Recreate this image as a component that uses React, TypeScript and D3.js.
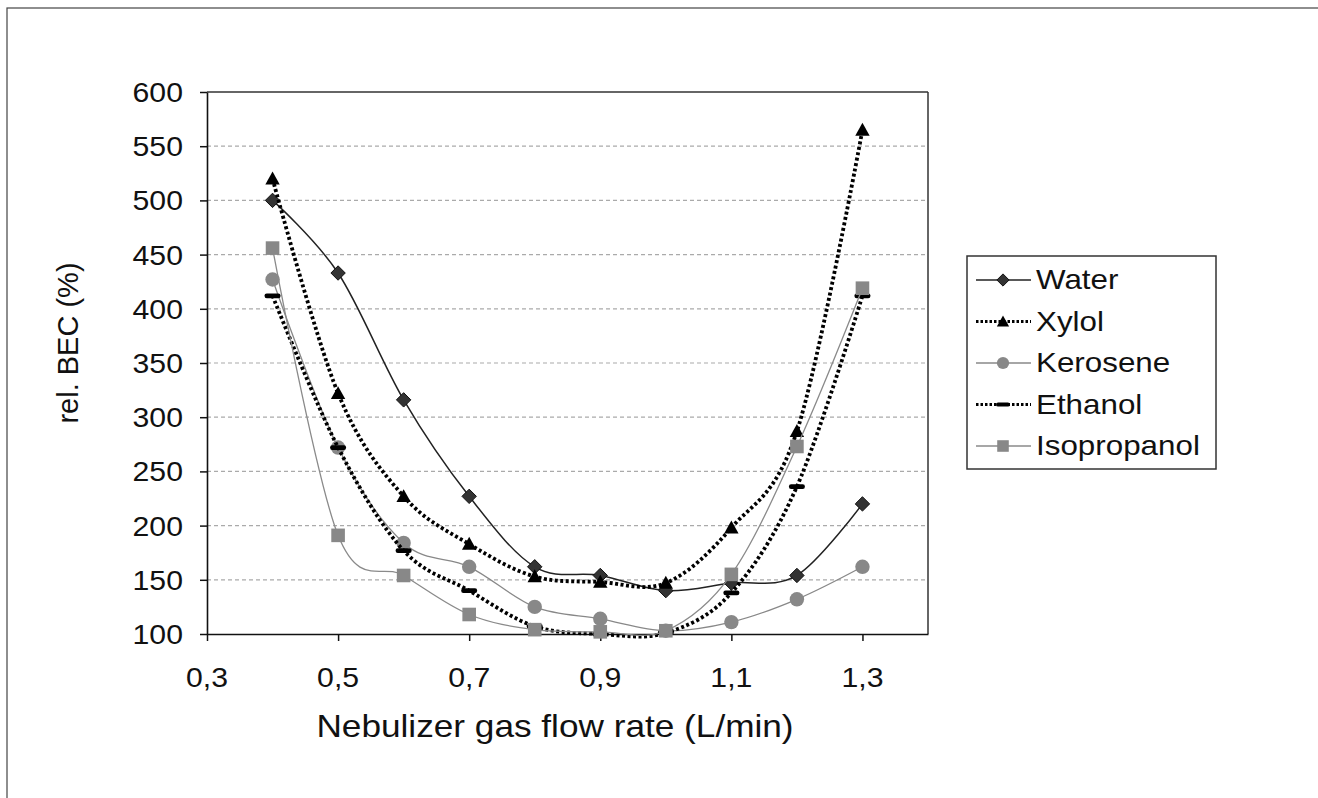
import React, { useEffect, useRef } from 'react';
import * as d3 from 'd3';

// values
const flowRates = [0.4, 0.5, 0.6, 0.7, 0.8, 0.9, 1.0, 1.1, 1.2, 1.3];
const water = [500, 433, 316, 227, 162, 154, 140, 147, 154, 220];
const xylol = [520, 322, 227, 183, 153, 148, 147, 198, 287, 565];
const kerosene = [427, 272, 184, 162, 125, 114, 103, 111, 132, 162];
const ethanol = [412, 272, 177, 140, 107, 100, 101, 138, 236, 412];
const isopropanol = [456, 191, 154, 118, 104, 102, 103, 155, 273, 419];

const xTicks = [0.3, 0.5, 0.7, 0.9, 1.1, 1.3];
const yTicks = [100, 150, 200, 250, 300, 350, 400, 450, 500, 550, 600];
const seriesNames = ['Water', 'Xylol', 'Kerosene', 'Ethanol', 'Isopropanol'];

const FONT = 'Liberation Sans, Arial, sans-serif';

const drawChart = (svgEl: SVGSVGElement) => {
  const svg = d3.select(svgEl);
  svg.selectAll('*').remove();

  const x = d3.scaleLinear().domain([0.3, 1.4]).range([207, 928]);
  const y = d3.scaleLinear().domain([100, 600]).range([634, 92]);

  // outer frame (only top/left visible)
  svg.append('rect').attr('x', 7).attr('y', 8).attr('width', 1330).attr('height', 820)
    .attr('fill', 'white').attr('stroke', '#444').attr('stroke-width', 1.2);

  // grid
  svg.append('g').selectAll('line').data(yTicks.filter(d => d > 100 && d < 600)).enter()
    .append('line')
    .attr('x1', x(0.3)).attr('x2', x(1.4))
    .attr('y1', d => y(d)).attr('y2', d => y(d))
    .attr('stroke', '#aaa').attr('stroke-width', 1.2).attr('stroke-dasharray', '4,3');

  // plot border
  svg.append('line').attr('x1', x(0.3)).attr('x2', x(1.4)).attr('y1', y(600)).attr('y2', y(600))
    .attr('stroke', '#666').attr('stroke-width', 2);
  svg.append('line').attr('x1', x(1.4)).attr('x2', x(1.4)).attr('y1', y(600)).attr('y2', y(100))
    .attr('stroke', '#333').attr('stroke-width', 1.5);

  // axes
  const yAxis = d3.axisLeft(y).tickValues(yTicks).tickSize(7).tickSizeOuter(0).tickFormat(() => '');
  const gy = svg.append('g').attr('transform', `translate(${x(0.3)},0)`).call(yAxis);
  gy.select('.domain').attr('stroke', '#111').attr('stroke-width', 1.6);
  gy.selectAll('.tick line').attr('stroke', '#111').attr('stroke-width', 1.5);

  const xAxis = d3.axisBottom(x).tickValues(xTicks).tickSize(7).tickSizeOuter(0).tickFormat(() => '');
  const gx = svg.append('g').attr('transform', `translate(0,${y(100)})`).call(xAxis);
  gx.select('.domain').attr('stroke', '#111').attr('stroke-width', 1.6);
  gx.selectAll('.tick line').attr('stroke', '#111').attr('stroke-width', 1.5);

  const label = (txt: string, tx: number, ty: number, size: number, anchor: string, sx = 1.12) => {
    svg.append('text').text(txt)
      .attr('transform', `translate(${tx},${ty}) scale(${sx},1)`)
      .attr('text-anchor', anchor)
      .style('font-family', FONT).style('font-size', size + 'px').attr('fill', '#111');
  };

  yTicks.forEach(t => label(String(t), 183, y(t) + 10, 27, 'end'));
  xTicks.forEach(t => label(t.toFixed(1).replace('.', ','), x(t), 687, 27, 'middle'));
  label('Nebulizer gas flow rate (L/min)', 555, 737, 32, 'middle', 1.1);

  svg.append('text').text('rel. BEC (%)')
    .attr('transform', `translate(78,343) rotate(-90)`)
    .attr('text-anchor', 'middle')
    .style('font-family', FONT).style('font-size', '29px').attr('fill', '#111');

  // series
  const curve = d3.curveCardinal.tension(0);
  const line = d3.line<number>().x((d, i) => x(flowRates[i])).y(d => y(d)).curve(curve);

  const styles = [
    { data: water, stroke: '#222', width: 1.5, dash: null, marker: 'diamond', fill: '#333' },
    { data: xylol, stroke: '#000', width: 3.8, dash: '3,2.5', marker: 'triangle', fill: '#000' },
    { data: kerosene, stroke: '#888', width: 1.3, dash: null, marker: 'circle', fill: '#888' },
    { data: ethanol, stroke: '#000', width: 3.8, dash: '3,2.5', marker: 'bar', fill: '#000' },
    { data: isopropanol, stroke: '#8a8a8a', width: 1.3, dash: null, marker: 'square', fill: '#888' },
  ];

  const drawMarker = (g: any, kind: string, fill: string, cx: number, cy: number, scale = 1) => {
    if (kind === 'diamond') {
      const r = 7.2 * scale;
      g.append('path').attr('d', `M${cx},${cy - r}L${cx + r},${cy}L${cx},${cy + r}L${cx - r},${cy}Z`)
        .attr('fill', fill).attr('stroke', '#111').attr('stroke-width', 1);
    } else if (kind === 'triangle') {
      const r = 7.2 * scale;
      g.append('path').attr('d', `M${cx},${cy - r}L${cx + r},${cy + r * 0.8}L${cx - r},${cy + r * 0.8}Z`)
        .attr('fill', fill);
    } else if (kind === 'circle') {
      g.append('circle').attr('cx', cx).attr('cy', cy).attr('r', 7.2 * scale).attr('fill', fill);
    } else if (kind === 'square') {
      const r = 6.8 * scale;
      g.append('rect').attr('x', cx - r).attr('y', cy - r).attr('width', 2 * r).attr('height', 2 * r).attr('fill', fill);
    } else if (kind === 'bar') {
      g.append('rect').attr('x', cx - 8 * scale).attr('y', cy - 2.4 * scale).attr('width', 16 * scale)
        .attr('height', 4.8 * scale).attr('rx', 2.2 * scale).attr('fill', fill);
    }
  };

  styles.forEach(s => {
    const g = svg.append('g');
    g.append('path').datum(s.data).attr('d', line)
      .attr('fill', 'none').attr('stroke', s.stroke).attr('stroke-width', s.width)
      .attr('stroke-dasharray', s.dash);
    s.data.forEach((v, i) => drawMarker(g, s.marker, s.fill, x(flowRates[i]), y(v)));
  });

  // legend
  const lg = svg.append('g');
  lg.append('rect').attr('x', 967).attr('y', 256).attr('width', 249).attr('height', 213)
    .attr('fill', 'white').attr('stroke', '#333').attr('stroke-width', 1.5);
  seriesNames.forEach((name, i) => {
    const s = styles[i];
    const base = 289 + i * 41.5;
    const cy = base - 9;
    lg.append('line').attr('x1', 976).attr('x2', 1031).attr('y1', cy).attr('y2', cy)
      .attr('stroke', s.stroke).attr('stroke-width', s.width > 3 ? 2.8 : s.width)
      .attr('stroke-dasharray', s.dash ? '2.5,2' : null);
    drawMarker(lg, s.marker, s.fill, 1003, cy, 0.85);
    lg.append('text').text(name)
      .attr('transform', `translate(1036,${base}) scale(1.12,1)`)
      .style('font-family', FONT).style('font-size', '28px').attr('fill', '#111');
  });
};

const Chart = () => {
  const ref = useRef<SVGSVGElement>(null);
  useEffect(() => { if (ref.current) drawChart(ref.current); }, []);
  return <svg ref={ref} width={1318} height={798} style={{ display: 'block' }} />;
};

export default function App() {
  return (
    <div style={{ position: 'absolute', left: 0, top: 0, width: 1318, height: 798, background: 'white' }}>
      <Chart />
    </div>
  );
}
